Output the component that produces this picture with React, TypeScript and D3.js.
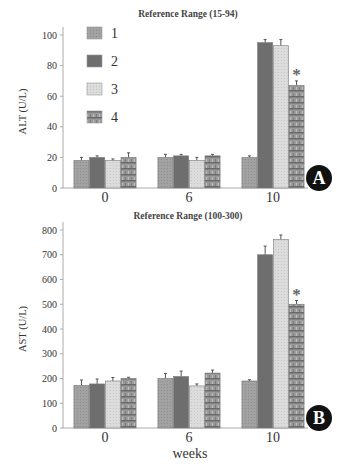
import React from 'react';
import * as d3 from 'd3';

const weeks = ['0', '6', '10'];
const groups = ['1', '2', '3', '4'];

// ALT (U/L), rows = weeks, columns = groups
const altMean = [
  [18, 20, 18, 20],
  [20, 21, 18, 21],
  [20, 95, 93, 67],
];
const altErr = [
  [2, 1, 1, 3],
  [2, 1, 2, 1],
  [1, 2, 4, 3],
];
const altTicks = [0, 20, 40, 60, 80, 100];

// AST (U/L)
const astMean = [
  [172, 178, 190, 200],
  [200, 208, 170, 222],
  [190, 700, 762, 500],
];
const astErr = [
  [22, 20, 14, 5],
  [20, 22, 8, 12],
  [5, 35, 18, 15],
];
const astTicks = [0, 100, 200, 300, 400, 500, 600, 700, 800];

const fills = ['url(#p1)', '#6e6e6e', 'url(#p3)', 'url(#p4)'];
const serif = '"Liberation Serif", "DejaVu Serif", serif';

type PanelProps = {
  top: number;
  bottom: number;
  titleY: number;
  yMax: number;
  ticks: number[];
  mean: number[][];
  err: number[][];
  title: string;
  ylabel: string;
  letter: string;
  star: number;
  legend?: boolean;
};

const Panel: React.FC<PanelProps> = ({ top, bottom, titleY, yMax, ticks, mean, err, title, ylabel, letter, star, legend }) => {
  const x0 = d3.scaleBand<string>().domain(weeks).range([63, 315]).paddingInner(0.26).paddingOuter(0.13);
  const x1 = d3.scaleBand<string>().domain(groups).range([0, x0.bandwidth()]).paddingInner(0.04);
  const y = d3.scaleLinear().domain([0, yMax]).range([bottom, top]);

  return (
    <g>
      <text x={188} y={titleY} dy="0.35em" textAnchor="middle" fontSize={9.5} fontFamily={serif} fill="#444" fontWeight="bold">{title}</text>
      {/* axes */}
      <line x1={63} x2={63} y1={bottom} y2={top - 8} stroke="#aaa" />
      <line x1={63} x2={308} y1={bottom} y2={bottom} stroke="#aaa" />
      {ticks.map(t => (
        <g key={t}>
          <line x1={60} x2={63} y1={y(t)} y2={y(t)} stroke="#aaa" />
          <text x={57} y={y(t)} dy="0.35em" textAnchor="end" fontSize={10} fontFamily={serif} fill="#333">{t}</text>
        </g>
      ))}
      <text transform={`translate(${26},${(top + bottom) / 2}) rotate(-90)`} textAnchor="middle" fontSize={10.5} fontFamily={serif} fill="#333">{ylabel}</text>
      {weeks.map((w, wi) => (
        <g key={w} transform={`translate(${x0(w)},0)`}>
          {groups.map((gname, gi) => {
            const v = mean[wi][gi];
            const e = err[wi][gi];
            const bx = x1(gname)!;
            const cx = bx + x1.bandwidth() / 2;
            return (
              <g key={gname}>
                <line x1={cx} x2={cx} y1={y(v)} y2={y(v + e)} stroke="#555" strokeWidth={1} />
                <line x1={cx - 1.5} x2={cx + 1.5} y1={y(v + e)} y2={y(v + e)} stroke="#555" strokeWidth={1} />
                <rect x={bx} y={y(v)} width={x1.bandwidth()} height={bottom - y(v)} fill={fills[gi]} stroke="#777" strokeWidth={0.6} />
              </g>
            );
          })}
        </g>
      ))}
      {/* significance marker */}
      <text x={x0('10')! + x1('4')! + x1.bandwidth() / 2} y={y(star)} dy="0.75em" textAnchor="middle" fontSize={17} fontFamily={serif} fontWeight="bold" fill="#666">*</text>
      {weeks.map(w => (
        <text key={w} x={x0(w)! + x0.bandwidth() / 2} y={bottom + 14} textAnchor="middle" fontSize={14} fontFamily={serif} fill="#333">{w}</text>
      ))}
      <circle cx={319} cy={bottom - 10} r={13} fill="#111" />
      <text x={319} y={bottom - 10} dy="0.36em" textAnchor="middle" fontSize={18} fontFamily={serif} fontWeight="bold" fill="#fff">{letter}</text>
      {legend && groups.map((gname, gi) => (
        <g key={gname} transform={`translate(87,${27 + gi * 28})`}>
          <rect width={15} height={12} fill={fills[gi]} stroke="#999" strokeWidth={0.6} />
          <text x={24} y={6} dy="0.36em" fontSize={14} fontFamily={serif} fill="#333">{gname}</text>
        </g>
      ))}
    </g>
  );
};

export default function App() {
  return (
    <svg width={337} height={464} style={{ position: 'absolute', left: 0, top: 0, background: '#fff' }}>
      <defs>
        <pattern id="p1" width={3} height={3} patternUnits="userSpaceOnUse">
          <rect width={3} height={3} fill="#a2a2a2" />
          <rect width={1} height={1} fill="#8a8a8a" />
        </pattern>
        <pattern id="p3" width={3} height={3} patternUnits="userSpaceOnUse">
          <rect width={3} height={3} fill="#dcdcdc" />
          <rect width={1} height={1} fill="#c4c4c4" />
        </pattern>
        <pattern id="p4" width={6} height={6} patternUnits="userSpaceOnUse">
          <rect width={6} height={6} fill="#9a9a9a" />
          <rect width={6} height={1.5} fill="#6a6a6a" />
          <rect x={0} y={3} width={1} height={3} fill="#bdbdbd" />
          <rect x={3} y={3} width={1} height={3} fill="#7c7c7c" />
        </pattern>
      </defs>
      <Panel top={35} bottom={188} titleY={14} yMax={100} ticks={altTicks} mean={altMean} err={altErr}
        title="Reference Range (15-94)" ylabel="ALT (U/L)" letter="A" star={79} legend />
      <Panel top={230} bottom={428} titleY={216} yMax={800} ticks={astTicks} mean={astMean} err={astErr}
        title="Reference Range (100-300)" ylabel="AST (U/L)" letter="B" star={570} />
      <text x={190} y={458} textAnchor="middle" fontSize={14} fontFamily={serif} fill="#333">weeks</text>
    </svg>
  );
}
